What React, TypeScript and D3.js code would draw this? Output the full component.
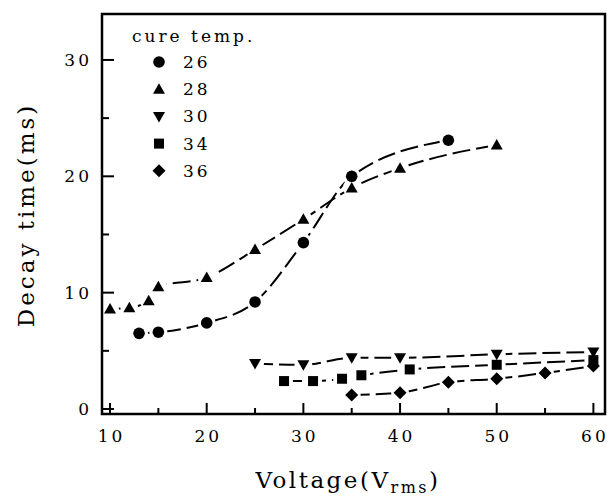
import React from "react";
import * as d3 from "d3";

const W = 608;
const H = 497;

const xTicks = [10, 20, 30, 40, 50, 60];
const xMinor = [15, 25, 35, 45, 55];
const yTicks = [0, 10, 20, 30];
const yMinor = [5, 15, 25];

const legendTitle = "cure temp.";
const seriesNames = ["26", "28", "30", "34", "36"];
const seriesShapes = ["circle", "up", "down", "square", "diamond"];

const s26x = [13, 15, 20, 25, 30, 35, 45];
const s26y = [6.5, 6.6, 7.4, 9.2, 14.3, 20.0, 23.1];
const s28x = [10, 12, 14, 15, 20, 25, 30, 35, 40, 50];
const s28y = [8.6, 8.7, 9.3, 10.5, 11.3, 13.7, 16.3, 19.0, 20.7, 22.7];
const s30x = [25, 30, 35, 40, 50, 60];
const s30y = [3.9, 3.8, 4.4, 4.4, 4.7, 4.9];
const s34x = [28, 31, 34, 36, 41, 50, 60];
const s34y = [2.4, 2.4, 2.6, 2.9, 3.4, 3.8, 4.2];
const s36x = [35, 40, 45, 50, 55, 60];
const s36y = [1.2, 1.4, 2.3, 2.6, 3.1, 3.7];

const seriesX = [s26x, s28x, s30x, s34x, s36x];
const seriesY = [s26y, s28y, s30y, s34y, s36y];

const FONT = '"DejaVu Serif", "Liberation Serif", serif';

function Marker({ shape, cx, cy }: { shape: string; cx: number; cy: number }) {
  const s = 6;
  if (shape === "circle") return <circle cx={cx} cy={cy} r={5.8} fill="#000" />;
  if (shape === "up")
    return <path d={`M${cx},${cy - s}L${cx + s},${cy + 4.5}L${cx - s},${cy + 4.5}Z`} fill="#000" />;
  if (shape === "down")
    return <path d={`M${cx},${cy + s}L${cx + s},${cy - 4.5}L${cx - s},${cy - 4.5}Z`} fill="#000" />;
  if (shape === "square")
    return <rect x={cx - 5} y={cy - 5} width={10} height={10} fill="#000" />;
  return <path d={`M${cx},${cy - 6.5}L${cx + 6.5},${cy}L${cx},${cy + 6.5}L${cx - 6.5},${cy}Z`} fill="#000" />;
}

export default function App() {
  const left = 102, right = 605, top = 14, bottom = 414;
  const x = d3.scaleLinear().domain([9.17, 61.2]).range([left, right]);
  const y = d3.scaleLinear().domain([-0.43, 33.95]).range([bottom, top]);
  const line = d3
    .line<[number, number]>()
    .x((d) => x(d[0]))
    .y((d) => y(d[1]))
    .curve(d3.curveMonotoneX);

  const pts = seriesX.map((xs, i) => xs.map((v, j) => [v, seriesY[i][j]] as [number, number]));
  const ts = (size: number, ls: number) => ({ fontFamily: FONT, fontSize: size + "px", letterSpacing: ls + "px" });

  return (
    <div style={{ position: "absolute", left: 0, top: 0, width: W, height: H, background: "#fff" }}>
      <svg width={W} height={H} style={{ display: "block" }}>
        {pts.map((p, i) => (
          <path
            key={"l" + i}
            d={line(p) || ""}
            fill="none"
            stroke="#000"
            strokeWidth={2}
            strokeDasharray="18,6"
          />
        ))}
        {pts.map((p, i) =>
          p.map((d, j) => (
            <circle key={"h" + i + "-" + j} cx={x(d[0])} cy={y(d[1])} r={9} fill="#fff" />
          ))
        )}
        {pts.map((p, i) =>
          p.map((d, j) => (
            <Marker key={"m" + i + "-" + j} shape={seriesShapes[i]} cx={x(d[0])} cy={y(d[1])} />
          ))
        )}
        <rect x={left} y={top} width={right - left} height={bottom - top} fill="none" stroke="#000" strokeWidth={2.5} />
        {xTicks.map((t) => (
          <g key={"xt" + t}>
            <line x1={x(t)} x2={x(t)} y1={bottom} y2={bottom - 11} stroke="#000" strokeWidth={2} />
            <text x={x(t) + 1.5} y={442} textAnchor="middle" style={ts(17, 3)}>
              {t}
            </text>
          </g>
        ))}
        {xMinor.map((t) => (
          <line key={"xm" + t} x1={x(t)} x2={x(t)} y1={bottom} y2={bottom - 6} stroke="#000" strokeWidth={2} />
        ))}
        {yTicks.map((t) => (
          <g key={"yt" + t}>
            <line x1={left} x2={left + 12} y1={y(t)} y2={y(t)} stroke="#000" strokeWidth={2} />
            <text x={92} y={y(t) + 6} textAnchor="end" style={ts(17, 3)}>
              {t}
            </text>
          </g>
        ))}
        {yMinor.map((t) => (
          <line key={"ym" + t} x1={left} x2={left + 7} y1={y(t)} y2={y(t)} stroke="#000" strokeWidth={2} />
        ))}
        <text x={132} y={42} style={ts(17, 3)}>
          {legendTitle}
        </text>
        {seriesNames.map((n, i) => (
          <g key={"lg" + i}>
            <Marker shape={seriesShapes[i]} cx={159} cy={62 + i * 27.2} />
            <text x={183} y={68 + i * 27.2} style={ts(17, 3)}>
              {n}
            </text>
          </g>
        ))}
        <text x={348} y={488} textAnchor="middle" style={ts(23, 2.5)}>
          Voltage(V
          <tspan style={{ fontSize: "16px" }} dy={5}>rms</tspan>
          <tspan dy={-5}>)</tspan>
        </text>
        <text transform={`translate(34,215) rotate(-90)`} textAnchor="middle" style={ts(23, 3)}>
          Decay time(ms)
        </text>
      </svg>
    </div>
  );
}
